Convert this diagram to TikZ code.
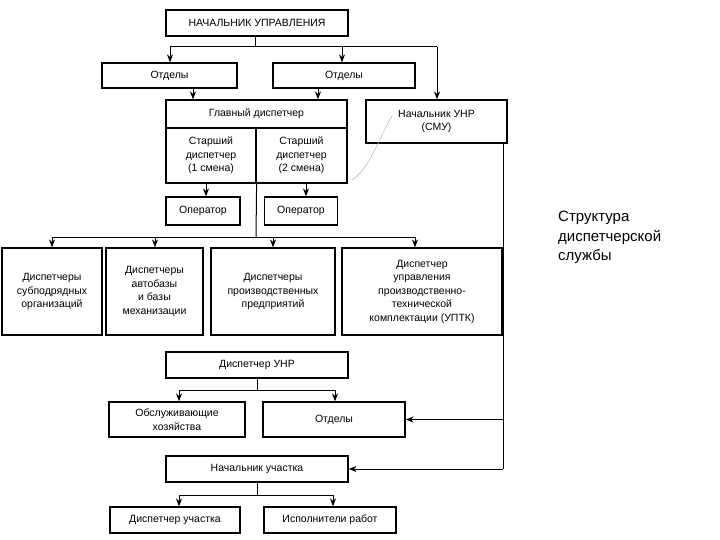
\documentclass[tikz,border=0pt]{standalone}
\usepackage{fontspec}
\setmainfont{Liberation Sans}
\usetikzlibrary{arrows.meta}
\begin{document}
\begin{tikzpicture}[x=1pt,y=-1pt,
  bx/.style={draw,line width=1.2pt,inner sep=1pt,align=center,font=\fontsize{10.5}{13.5}\selectfont},
  ln/.style={line width=1pt},
  ar/.style={line width=1pt,-{Stealth[length=8pt,width=6pt]}}]
\useasboundingbox (0,0) rectangle (720,540);
\fill[white] (0,0) rectangle (720,540);
\node[bx,minimum width=182pt,minimum height=26pt] (top) at (257,23) {НАЧАЛЬНИК УПРАВЛЕНИЯ};
\node[bx,minimum width=135pt,minimum height=25pt] (ot1) at (169.5,75.5) {Отделы};
\node[bx,minimum width=142pt,minimum height=25pt] (ot2) at (344,75.5) {Отделы};
\node[bx,minimum width=181pt,minimum height=28pt] (glav) at (256.5,114) {Главный диспетчер};
\node[bx,minimum width=90pt,minimum height=55pt] (st1) at (211,155.5) {Старший\\диспетчер\\(1 смена)};
\node[bx,minimum width=91pt,minimum height=55pt] (st2) at (301.5,155.5) {Старший\\диспетчер\\(2 смена)};
\node[bx,minimum width=141pt,minimum height=43pt] (unr) at (436.5,121.5) {Начальник УНР\\(СМУ)};
\node[bx,minimum width=74pt,minimum height=28pt] (op1) at (203,211) {Оператор};
\node[bx,minimum width=73pt,minimum height=28pt] (op2) at (301,211) {Оператор};
\node[bx,minimum width=100pt,minimum height=87pt] (b1) at (52,291.5) {Диспетчеры\\субподрядных\\организаций};
\node[bx,minimum width=97pt,minimum height=87pt] (b2) at (154.5,291.5) {Диспетчеры\\автобазы\\и базы\\механизации};
\node[bx,minimum width=124pt,minimum height=87pt] (b3) at (273,291.5) {Диспетчеры\\производственных\\предприятий};
\node[bx,minimum width=160pt,minimum height=87pt] (b4) at (422,291.5) {Диспетчер\\управления\\производственно-\\технической\\комплектации (УПТК)};
\node[bx,minimum width=182pt,minimum height=26pt] (dunr) at (257,365) {Диспетчер УНР};
\node[bx,minimum width=136pt,minimum height=35pt] (obs) at (177,419.5) {Обслуживающие\\хозяйства};
\node[bx,minimum width=142pt,minimum height=35pt] (ot3) at (334,419.5) {Отделы};
\node[bx,minimum width=182pt,minimum height=26pt] (nu) at (257,469) {Начальник участка};
\node[bx,minimum width=130pt,minimum height=26pt] (du) at (175,520) {Диспетчер участка};
\node[bx,minimum width=132pt,minimum height=26pt] (isp) at (330,520) {Исполнители работ};
\node[align=left,anchor=north west,font=\fontsize{15}{19.5}\selectfont,inner sep=0pt] (title) at (558,211) {Структура\\диспетчерской\\службы};
% top
\draw[ln] (255,0 |- top.south) -- (255,47);
\draw[ln] (170,47) -- (437,47);
\draw[ar] (170,47) -- (170,0 |- ot1.north);
\draw[ar] (342,47) -- (342,0 |- ot2.north);
\draw[ar] (437,47) -- (437,0 |- unr.north);
\draw[ar] (193,0 |- ot1.south) -- (193,0 |- glav.north);
\draw[ar] (318,0 |- ot2.south) -- (318,0 |- glav.north);
\draw[ar] (206,0 |- st1.south) -- (206,0 |- op1.north);
\draw[ar] (306,0 |- st2.south) -- (306,0 |- op2.north);
% middle hub
\draw[ln] (st1.south east) -- (256,237);
\draw[ln] (52,237) -- (415,237);
\draw[ar] (52,237) -- (52,0 |- b1.north);
\draw[ar] (155,237) -- (155,0 |- b2.north);
\draw[ar] (273,237) -- (273,0 |- b3.north);
\draw[ar] (415,237) -- (415,0 |- b4.north);
% right line
\draw[ln] (503,0 |- unr.south) -- (503,0 |- nu.east);
\draw[ar] (503,0 |- nu.east) -- (nu.east);
\draw[ar] (503,0 |- ot3.east) -- (ot3.east);
% lower
\draw[ln] (dunr.south) -- (257,390);
\draw[ln] (179,390) -- (335,390);
\draw[ar] (179,390) -- (179,0 |- obs.north);
\draw[ar] (335,390) -- (335,0 |- ot3.north);
\draw[ln] (nu.south) -- (257,495);
\draw[ln] (179,495) -- (333,495);
\draw[ar] (179,495) -- (179,0 |- du.north);
\draw[ar] (333,495) -- (333,0 |- isp.north);
% gray stroke
\draw[gray!60,line width=0.5pt] (392,116) .. controls (378,140) and (370,168) .. (352,180);
\end{tikzpicture}
\end{document}
